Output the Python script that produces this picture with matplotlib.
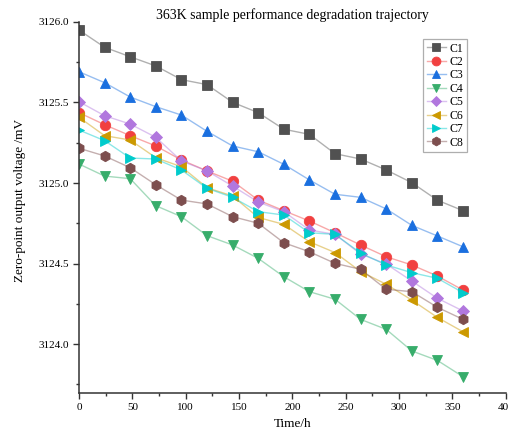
import numpy as np
import matplotlib
matplotlib.use('Agg')
import matplotlib.pyplot as plt
from matplotlib.ticker import MultipleLocator, FormatStrFormatter
from matplotlib.colors import to_rgba

plt.rcParams['font.family'] = ['Liberation Serif', 'DejaVu Serif']

# time in hours
hours = [0, 24, 48, 72, 96, 120, 144, 168, 192, 216, 240, 264, 288, 312, 336, 360]

c1 = [3125.950, 3125.843, 3125.784, 3125.727, 3125.642, 3125.611, 3125.501, 3125.437,
      3125.334, 3125.302, 3125.182, 3125.149, 3125.081, 3125.002, 3124.893, 3124.828]
c2 = [3125.437, 3125.362, 3125.294, 3125.230, 3125.143, 3125.075, 3125.011, 3124.894,
      3124.828, 3124.764, 3124.691, 3124.615, 3124.542, 3124.491, 3124.422, 3124.335]
c3 = [3125.691, 3125.623, 3125.534, 3125.474, 3125.422, 3125.321, 3125.230, 3125.194,
      3125.116, 3125.019, 3124.930, 3124.911, 3124.839, 3124.737, 3124.671, 3124.604]
c4 = [3125.118, 3125.043, 3125.027, 3124.859, 3124.791, 3124.673, 3124.615, 3124.532,
      3124.418, 3124.325, 3124.278, 3124.153, 3124.091, 3123.957, 3123.898, 3123.797]
c5 = [3125.505, 3125.418, 3125.366, 3125.284, 3125.137, 3125.075, 3124.981, 3124.882,
      3124.822, 3124.708, 3124.681, 3124.559, 3124.497, 3124.391, 3124.284, 3124.205]
c6 = [3125.408, 3125.294, 3125.267, 3125.157, 3125.101, 3124.971, 3124.919, 3124.786,
      3124.743, 3124.635, 3124.568, 3124.450, 3124.371, 3124.273, 3124.165, 3124.076]
c7 = [3125.329, 3125.263, 3125.155, 3125.149, 3125.081, 3124.967, 3124.911, 3124.822,
      3124.801, 3124.691, 3124.681, 3124.565, 3124.491, 3124.443, 3124.408, 3124.319]
c8 = [3125.216, 3125.168, 3125.095, 3124.989, 3124.894, 3124.870, 3124.791, 3124.750,
      3124.629, 3124.573, 3124.501, 3124.464, 3124.340, 3124.325, 3124.228, 3124.153]

names = ['C1', 'C2', 'C3', 'C4', 'C5', 'C6', 'C7', 'C8']
series = [c1, c2, c3, c4, c5, c6, c7, c8]
colors = ['#515151', '#F14040', '#1A6FDF', '#37AD6B', '#B177DE', '#CC9900', '#00CBCC', '#7D4E4E']
markers = ['s', 'o', '^', 'v', 'D', '<', '>', 'h']
msizes = [6.5, 7.5, 7.5, 7.5, 6, 7.5, 7.5, 7.5]

fig = plt.figure(figsize=(5.08, 4.37), dpi=100)
ax = fig.add_axes([0.1555, 0.100, 0.84, 0.8497])

for name, ys, col, mk, ms in zip(names, series, colors, markers, msizes):
    ax.plot(hours, ys, color=to_rgba(col, 0.45), lw=1.0, marker=mk, ms=ms,
            markerfacecolor=col, markeredgecolor=col, markeredgewidth=0.6, label=name)

ax.set_xlim(0, 400)
ax.set_ylim(3123.694, 3126.0)
ax.xaxis.set_major_locator(MultipleLocator(50))
ax.xaxis.set_minor_locator(MultipleLocator(25))
ax.yaxis.set_major_locator(MultipleLocator(0.5))
ax.yaxis.set_minor_locator(MultipleLocator(0.25))
ax.yaxis.set_major_formatter(FormatStrFormatter('%.1f'))

for s in ['top', 'right']:
    ax.spines[s].set_visible(False)
for s in ['left', 'bottom']:
    ax.spines[s].set_linewidth(1.1)
    ax.spines[s].set_color('#333333')
ax.tick_params(which='major', length=4, width=1.0, color='#333333', labelsize=8, pad=3)
ax.tick_params(which='minor', length=2.5, width=1.0, color='#333333')

ax.set_title('363K sample performance degradation trajectory', fontsize=10, pad=0)
ax.set_xlabel('Time/h', fontsize=9.5, labelpad=4)
ax.set_ylabel('Zero-point output voltage /mV', fontsize=9.5)
ax.yaxis.set_label_coords(-0.125, 0.52)

leg = ax.legend(loc='upper right', bbox_to_anchor=(0.909, 0.954), borderaxespad=0,
                fontsize=8.5, fancybox=False, handlelength=1.6, handletextpad=0.3,
                labelspacing=0.12, borderpad=0.3, markerscale=0.85)
leg.get_frame().set_edgecolor('#9a9a9a')
leg.get_frame().set_linewidth(0.9)

fig.savefig('out.png', dpi=100)
